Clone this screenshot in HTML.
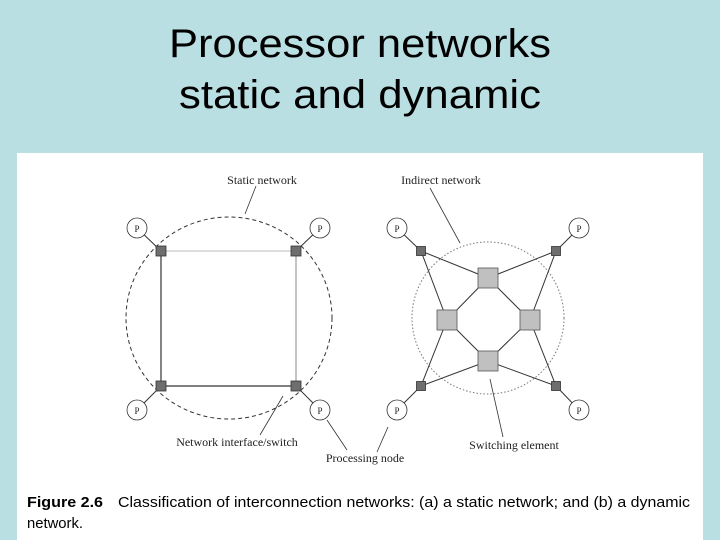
<!DOCTYPE html>
<html><head><meta charset="utf-8"><style>
html,body{margin:0;padding:0;background:#b9dfe3;}
svg{display:block}
</style></head><body>
<svg width="720" height="540" viewBox="0 0 720 540" xmlns="http://www.w3.org/2000/svg">
<rect width="720" height="540" fill="#b9dfe3"/>
<g font-family="Liberation Sans, sans-serif" font-size="40" fill="#000" text-anchor="middle">
<text x="360" y="57" textLength="382" lengthAdjust="spacingAndGlyphs">Processor networks</text>
<text x="360" y="108" textLength="362" lengthAdjust="spacingAndGlyphs">static and dynamic</text>
</g>
<rect x="17" y="153" width="686" height="387" fill="#fff"/>
<g fill="none" stroke="#333">
<!-- left -->
<ellipse cx="229" cy="318" rx="103" ry="101" stroke-dasharray="4,3" stroke-width="1"/>
<line x1="161" y1="251" x2="296" y2="251" stroke="#bbb"/>
<line x1="296" y1="251" x2="296" y2="386" stroke="#888"/>
<line x1="161" y1="251" x2="161" y2="386" stroke-width="1.2"/>
<line x1="161" y1="386" x2="296" y2="386" stroke-width="1.2"/>
<line x1="137" y1="228" x2="161" y2="251"/><line x1="320" y1="228" x2="296" y2="251"/>
<line x1="137" y1="410" x2="161" y2="386"/><line x1="320" y1="410" x2="296" y2="386"/>
<!-- right -->
<circle cx="488" cy="318" r="76" stroke="#777" stroke-dasharray="1.5,2"/>
<line x1="421" y1="251" x2="488" y2="278"/><line x1="421" y1="251" x2="447" y2="320"/>
<line x1="556" y1="251" x2="488" y2="278"/><line x1="556" y1="251" x2="530" y2="320"/>
<line x1="421" y1="386" x2="488" y2="361"/><line x1="421" y1="386" x2="447" y2="320"/>
<line x1="556" y1="386" x2="488" y2="361"/><line x1="556" y1="386" x2="530" y2="320"/>
<polygon points="488,278 530,320 488,361 447,320"/>
<line x1="397" y1="228" x2="421" y2="251"/><line x1="579" y1="228" x2="556" y2="251"/>
<line x1="397" y1="410" x2="421" y2="386"/><line x1="579" y1="410" x2="556" y2="386"/>
<!-- leaders -->
<line x1="256" y1="186" x2="245" y2="214" stroke-width="0.8"/>
<line x1="430" y1="188" x2="460" y2="243" stroke-width="0.8"/>
<line x1="260" y1="435" x2="283" y2="396" stroke-width="0.8"/>
<line x1="347" y1="450" x2="327" y2="420" stroke-width="0.8"/>
<line x1="377" y1="452" x2="388" y2="427" stroke-width="0.8"/>
<line x1="503" y1="437" x2="490" y2="379" stroke-width="0.8"/>
</g>
<g fill="#fff" stroke="#333" stroke-width="0.8">
<circle cx="137" cy="228" r="10"/><circle cx="320" cy="228" r="10"/>
<circle cx="137" cy="410" r="10"/><circle cx="320" cy="410" r="10"/>
<circle cx="397" cy="228" r="10"/><circle cx="579" cy="228" r="10"/>
<circle cx="397" cy="410" r="10"/><circle cx="579" cy="410" r="10"/>
</g>
<g fill="#6e6e6e" stroke="#333" stroke-width="0.8">
<rect x="156" y="246" width="10" height="10"/><rect x="291" y="246" width="10" height="10"/>
<rect x="156" y="381" width="10" height="10"/><rect x="291" y="381" width="10" height="10"/>
<rect x="416.5" y="246.5" width="9" height="9"/><rect x="551.5" y="246.5" width="9" height="9"/>
<rect x="416.5" y="381.5" width="9" height="9"/><rect x="551.5" y="381.5" width="9" height="9"/>
</g>
<g fill="#c0c0c0" stroke="#555" stroke-width="0.8">
<rect x="478" y="268" width="20" height="20"/><rect x="437" y="310" width="20" height="20"/>
<rect x="520" y="310" width="20" height="20"/><rect x="478" y="351" width="20" height="20"/>
</g>
<g font-family="Liberation Serif, serif" font-size="12" fill="#222" text-anchor="middle">
<text x="137" y="232" font-size="9">P</text><text x="320" y="232" font-size="9">P</text>
<text x="137" y="414" font-size="9">P</text><text x="320" y="414" font-size="9">P</text>
<text x="397" y="232" font-size="9">P</text><text x="579" y="232" font-size="9">P</text>
<text x="397" y="414" font-size="9">P</text><text x="579" y="414" font-size="9">P</text>
<text x="262" y="184">Static network</text>
<text x="441" y="184">Indirect network</text>
<text x="237" y="446">Network interface/switch</text>
<text x="365" y="462">Processing node</text>
<text x="514" y="449">Switching element</text>
</g>
<g font-family="Liberation Sans, sans-serif" font-size="15" fill="#000">
<text x="27" y="507" font-weight="bold" textLength="76" lengthAdjust="spacingAndGlyphs">Figure 2.6</text>
<text x="118" y="507" textLength="572" lengthAdjust="spacingAndGlyphs">Classification of interconnection networks:  (a) a static network;  and (b) a dynamic</text>
<text x="27" y="528" textLength="56" lengthAdjust="spacingAndGlyphs">network.</text>
</g>
</svg>
</body></html>
